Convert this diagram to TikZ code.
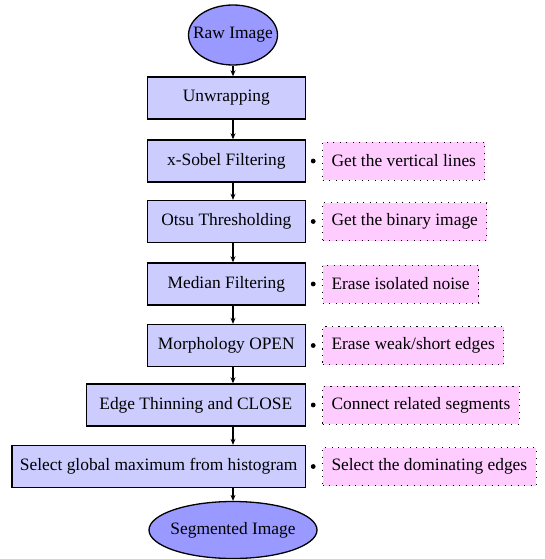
\documentclass[tikz,border=0pt]{standalone}
\usepackage{fontspec}
\setmainfont{Liberation Serif}
\usepackage{tikz}
\usetikzlibrary{calc,arrows.meta,shapes.geometric}
\definecolor{stepblue}{HTML}{CCCCFF}
\definecolor{endblue}{HTML}{9999FF}
\definecolor{notepink}{HTML}{FFCCFF}
\tikzset{
	stepbox/.style={draw, line width=1.4pt, fill=stepblue, anchor=east, minimum width=158pt, minimum height=42pt, inner xsep=8pt},
	endnode/.style={draw, line width=1.3pt, ellipse, fill=endblue, inner sep=0pt},
	notebox/.style={draw, dash pattern=on 1.2pt off 5.3pt, line width=1pt, fill=notepink, anchor=west, minimum height=38pt, inner xsep=9pt},
	flow/.style={line width=1.1pt, -{Stealth[length=6pt,width=5pt]}},
}

\begin{document}
\begin{tikzpicture}[x=1pt, y=1pt, font=\fontsize{17.4}{20}\selectfont]
			%%%%% START %%%%%
			\useasboundingbox (0, 0) rectangle (545, -559);
			
			\node[endnode, minimum width=89pt, minimum height=60pt] (raw) at (233, -35) {\makebox[0pt]{Raw Image}};
			
			\node[stepbox] (unwrap) at (306, -98) {Unwrapping};
			\node[stepbox] (sobel) at (306, -161) {x-Sobel Filtering};
			\node[stepbox] (otsu) at (306, -221.5) {Otsu Thresholding};
			\node[stepbox] (median) at (306, -284) {Median Filtering};
			\node[stepbox] (morph) at (306, -345.5) {Morphology OPEN};
			\node[stepbox, minimum width=219pt] (thin) at (306, -405) {Edge Thinning and CLOSE};
			\node[stepbox] (select) at (306, -466.5) {Select global maximum from histogram};
			
			\node[endnode, minimum width=168pt, minimum height=57pt] (seg) at (233, -530) {\makebox[0pt]{Segmented Image}};
			
			\node[notebox] (sobelnote) at (322, -161) {Get the vertical lines};
			\node[notebox] (otsunote) at (322, -221.5) {Get the binary image};
			\node[notebox] (mediannote) at (322, -284) {Erase isolated noise};
			\node[notebox] (morphnote) at (322, -345.5) {Erase weak/short edges};
			\node[notebox] (thinnote) at (322, -405) {Connect related segments};
			\node[notebox] (selectnote) at (322, -466.5) {Select the dominating edges};
			
			% bullets between step and note
			\foreach \s in {sobel, otsu, median, morph, thin, select}
				\fill ($(\s.east)!0.45!(\s note.west)$) circle (2.4);
			
			% flow
			\draw[flow] (raw.south) -- (raw.south |- unwrap.north);
			\draw[flow] (raw.south |- unwrap.south) -- (raw.south |- sobel.north);
			\draw[flow] (raw.south |- sobel.south) -- (raw.south |- otsu.north);
			\draw[flow] (raw.south |- otsu.south) -- (raw.south |- median.north);
			\draw[flow] (raw.south |- median.south) -- (raw.south |- morph.north);
			\draw[flow] (raw.south |- morph.south) -- (raw.south |- thin.north);
			\draw[flow] (raw.south |- thin.south) -- (raw.south |- select.north);
			\draw[flow] (raw.south |- select.south) -- (seg.north);
			
			%%%%% END %%%%%
\end{tikzpicture}
\end{document}
